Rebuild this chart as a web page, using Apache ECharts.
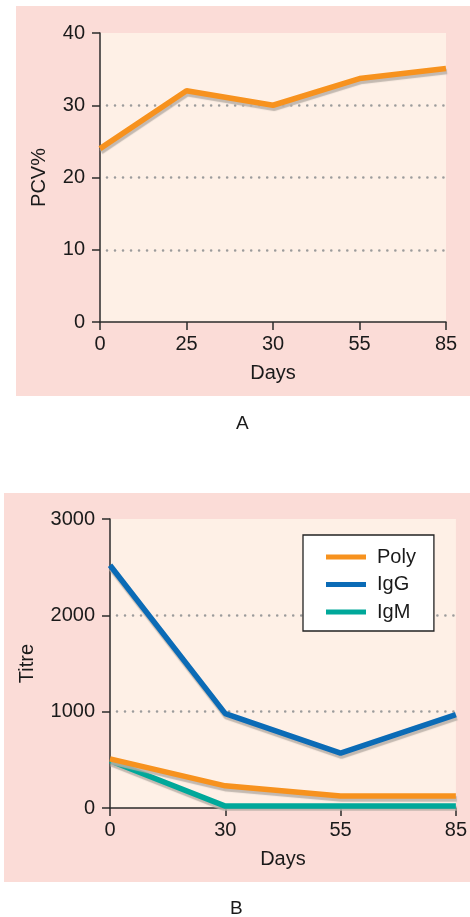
<!DOCTYPE html>
<html>
<head>
<meta charset="utf-8">
<script src="https://cdn.jsdelivr.net/npm/echarts@6/dist/echarts.min.js"></script>
<style>
  html, body { margin: 0; padding: 0; background: #ffffff; }
  #chart { width: 470px; height: 917px; }
</style>
</head>
<body>
<div id="chart"></div>
<script>
// Panel A: packed cell volume over time
const daysA = ['0', '25', '30', '55', '85'];
const pcv = [24, 32, 30, 33.7, 35.1];
const pcvTicks = [0, 10, 20, 30, 40];

// Panel B: antibody titres over time
const daysB = ['0', '30', '55', '85'];
const poly = [510, 230, 125, 125];
const igg = [2520, 980, 570, 970];
const igm = [490, 20, 20, 20];
const titreTicks = [0, 1000, 2000, 3000];

const FONT = '"Liberation Sans", Arial, sans-serif';
const ORANGE = '#f7921e';
const BLUE = '#0b6bb6';
const TEAL = '#00a89a';
const AXIS = '#2b2b2b';
const TEXT = '#1a1a1a';
const PINK = '#fbdcd7';
const PEACH = '#fef0e6';

function lineStyleFor(color) {
  return {
    width: 5.5,
    color: color,
    shadowColor: 'rgba(185,175,167,0.85)',
    shadowBlur: 1,
    shadowOffsetX: 1,
    shadowOffsetY: 3
  };
}

function xAxisFor(gridIndex, cats) {
  return {
    gridIndex: gridIndex,
    type: 'category',
    data: cats,
    boundaryGap: false,
    name: 'Days',
    nameLocation: 'middle',
    nameGap: 41,
    nameTextStyle: { fontFamily: FONT, fontSize: 20, color: TEXT },
    axisLine: { lineStyle: { color: AXIS, width: 1.5 } },
    axisTick: { alignWithLabel: true, length: 8, lineStyle: { color: AXIS, width: 1.5 } },
    axisLabel: { fontFamily: FONT, fontSize: 20, color: TEXT, margin: 12 },
    splitLine: { show: false }
  };
}

function yAxisFor(gridIndex, ticks, name, nameGap) {
  return {
    gridIndex: gridIndex,
    type: 'value',
    min: ticks[0],
    max: ticks[ticks.length - 1],
    interval: ticks[1] - ticks[0],
    name: name,
    nameLocation: 'middle',
    nameGap: nameGap,
    nameTextStyle: { fontFamily: FONT, fontSize: 20, color: TEXT },
    axisLine: { show: true, lineStyle: { color: AXIS, width: 1.5 } },
    axisTick: { show: true, length: 8, lineStyle: { color: AXIS, width: 1.5 } },
    axisLabel: { fontFamily: FONT, fontSize: 20, color: TEXT, margin: 15, formatter: v => String(v) },
    splitLine: {
      show: true,
      showMinLine: false,
      showMaxLine: false,
      lineStyle: { color: '#9c9c9c', width: 2.6, type: [0.01, 8], cap: 'round', dashOffset: -7 }
    }
  };
}

const chart = echarts.init(document.getElementById('chart'), null, { renderer: 'canvas' });

chart.setOption({
  animation: false,
  backgroundColor: '#ffffff',
  graphic: [
    { type: 'rect', z: -10, shape: { x: 16, y: 6, width: 454, height: 390 }, style: { fill: PINK } },
    { type: 'rect', z: -10, shape: { x: 4, y: 493, width: 466, height: 389 }, style: { fill: PINK } },
    { type: 'text', left: 236, top: 414, style: { text: 'A', font: '19px ' + FONT, fill: TEXT } },
    { type: 'text', left: 230, top: 899, style: { text: 'B', font: '19px ' + FONT, fill: TEXT } }
  ],
  grid: [
    { left: 100, top: 33, width: 346, height: 289, show: true, backgroundColor: PEACH, borderWidth: 0 },
    { left: 110, top: 519, width: 346, height: 289, show: true, backgroundColor: PEACH, borderWidth: 0 }
  ],
  xAxis: [xAxisFor(0, daysA), xAxisFor(1, daysB)],
  yAxis: [yAxisFor(0, pcvTicks, 'PCV%', 51), yAxisFor(1, titreTicks, 'Titre', 73)],
  legend: {
    show: true,
    data: ['Poly', 'IgG', 'IgM'],
    orient: 'vertical',
    left: 303,
    top: 535,
    padding: [12, 18, 9, 23],
    itemGap: 7.5,
    itemWidth: 40,
    itemHeight: 5,
    backgroundColor: '#ffffff',
    borderColor: '#222222',
    borderWidth: 1.3,
    borderRadius: 0,
    textStyle: { fontFamily: FONT, fontSize: 20, color: TEXT, padding: [0, 0, 0, 6], lineHeight: 20 },
    icon: 'rect'
  },
  series: [
    {
      name: 'PCV', type: 'line', xAxisIndex: 0, yAxisIndex: 0,
      data: pcv, showSymbol: false, symbol: 'none',
      color: ORANGE, lineStyle: lineStyleFor(ORANGE)
    },
    {
      name: 'IgM', type: 'line', xAxisIndex: 1, yAxisIndex: 1,
      data: igm, showSymbol: false, symbol: 'none', z: 2,
      color: TEAL, lineStyle: lineStyleFor(TEAL)
    },
    {
      name: 'Poly', type: 'line', xAxisIndex: 1, yAxisIndex: 1,
      data: poly, showSymbol: false, symbol: 'none', z: 3,
      color: ORANGE, lineStyle: lineStyleFor(ORANGE)
    },
    {
      name: 'IgG', type: 'line', xAxisIndex: 1, yAxisIndex: 1,
      data: igg, showSymbol: false, symbol: 'none', z: 3,
      color: BLUE, lineStyle: lineStyleFor(BLUE)
    }
  ]
});
</script>
</body>
</html>
